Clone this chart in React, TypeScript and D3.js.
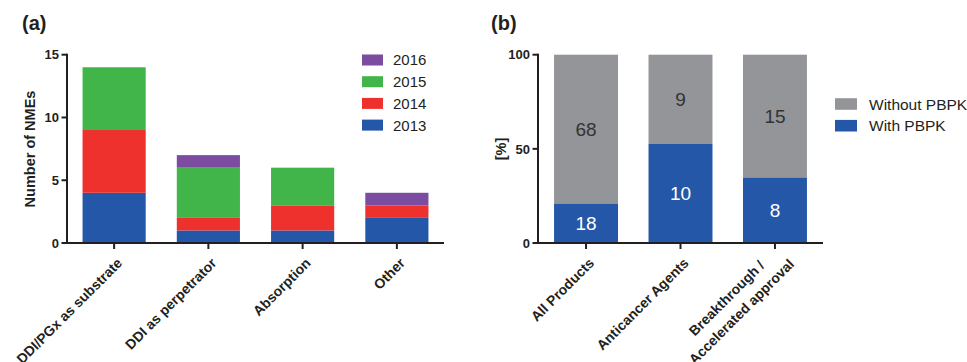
import * as d3 from "d3";

// panel (a) data
const categoriesA = ["DDI/PGx as substrate", "DDI as perpetrator", "Absorption", "Other"];
const years = ["2013", "2014", "2015", "2016"];
const counts2013 = [4, 1, 1, 2];
const counts2014 = [5, 1, 2, 1];
const counts2015 = [5, 4, 3, 0];
const counts2016 = [0, 1, 0, 1];
const yearColors = ["#2457a8", "#ee312d", "#41b549", "#7b4c9f"];
const ticksA = [0, 5, 10, 15];

// panel (b) data
const categoriesB = ["All Products", "Anticancer Agents", "Breakthrough /\nAccelerated approval"];
const withPBPK = [18, 10, 8];
const withoutPBPK = [68, 9, 15];
const ticksB = [0, 50, 100];
const pbpkColors = { with: "#2457a8", without: "#939598" };

const axisColor = "#231f20";
const font = "'Liberation Sans', Arial, Helvetica, sans-serif";

export default function App() {
  const width = 967;
  const height = 362;
  const top = 54.7;
  const bottom = 243;

  // (a) scales
  const xA = d3.scaleBand().domain(categoriesA).range([67, 444]).paddingInner(0.33).paddingOuter(0.165);
  const yA = d3.scaleLinear().domain([0, 15]).range([bottom, top]);
  const seriesByYear = [counts2013, counts2014, counts2015, counts2016];
  const rowsA = categoriesA.map((c, i) => {
    const r: any = { cat: c };
    years.forEach((y, j) => (r[y] = seriesByYear[j][i]));
    return r;
  });
  const stackA = d3.stack().keys(years)(rowsA);

  // (b) scales
  const xB = d3.scaleBand().domain(categoriesB).range([538, 823]).paddingInner(0.323).paddingOuter(0.17);
  const yB = d3.scaleLinear().domain([0, 100]).range([bottom, top]);
  const rowsB = categoriesB.map((c, i) => {
    const tot = withPBPK[i] + withoutPBPK[i];
    return { cat: c, w: withPBPK[i], wo: withoutPBPK[i], pct: (withPBPK[i] / tot) * 100 };
  });

  const legendA = years.slice().reverse();

  return (
    <svg width={width} height={height} style={{ position: "absolute", left: 0, top: 0 }} fontFamily={font}>
      {/* titles */}
      <text x={22} y={30} fontSize={20} fontWeight="bold" fill="#231f20">(a)</text>
      <text x={491} y={30} fontSize={20} fontWeight="bold" fill="#231f20">(b)</text>

      {/* ---- panel a ---- */}
      <g>
        {stackA.map((s, j) => (
          <g key={s.key} fill={yearColors[j]}>
            {s.map((d, i) =>
              d[1] - d[0] > 0 ? (
                <rect key={i} x={xA(categoriesA[i])} width={xA.bandwidth()} y={yA(d[1])} height={yA(d[0]) - yA(d[1])} />
              ) : null
            )}
          </g>
        ))}
        <line x1={67} x2={67} y1={top - 1} y2={bottom + 1} stroke={axisColor} strokeWidth={2} />
        <line x1={66} x2={444} y1={bottom} y2={bottom} stroke={axisColor} strokeWidth={2} />
        {ticksA.map((t) => (
          <g key={t} transform={`translate(0,${yA(t)})`}>
            <line x1={61.5} x2={67} stroke={axisColor} strokeWidth={2} />
            <text x={59} dy="0.36em" textAnchor="end" fontSize={13} fontWeight="bold" fill={axisColor}>{t}</text>
          </g>
        ))}
        {categoriesA.map((c) => {
          const cx = xA(c)! + xA.bandwidth() / 2;
          return (
            <g key={c}>
              <line x1={cx} x2={cx} y1={bottom} y2={bottom + 6} stroke={axisColor} strokeWidth={2} />
              <text transform={`translate(${cx + 9},${bottom + 21}) rotate(-45)`} textAnchor="end" fontSize={14} fontWeight="bold" fill={axisColor}>{c}</text>
            </g>
          );
        })}
        <text transform={`translate(35,149) rotate(-90)`} textAnchor="middle" fontSize={14.5} fontWeight="bold" fill={axisColor}>Number of NMEs</text>
        {legendA.map((y, i) => (
          <g key={y} transform={`translate(362,${60 + i * 21.7})`}>
            <rect x={0} y={-5.5} width={21} height={11} fill={yearColors[years.indexOf(y)]} />
            <text x={31} dy="0.36em" fontSize={15} fill="#231f20">{y}</text>
          </g>
        ))}
      </g>

      {/* ---- panel b ---- */}
      <g>
        {rowsB.map((d) => (
          <g key={d.cat}>
            <rect x={xB(d.cat)} width={xB.bandwidth()} y={yB(100)} height={yB(d.pct) - yB(100)} fill={pbpkColors.without} />
            <rect x={xB(d.cat)} width={xB.bandwidth()} y={yB(d.pct)} height={yB(0) - yB(d.pct)} fill={pbpkColors.with} />
            <text x={xB(d.cat)! + xB.bandwidth() / 2} y={(yB(100) + yB(d.pct)) / 2} dy="0.36em" textAnchor="middle" fontSize={19} fill="#333">{d.wo}</text>
            <text x={xB(d.cat)! + xB.bandwidth() / 2} y={(yB(d.pct) + yB(0)) / 2} dy="0.36em" textAnchor="middle" fontSize={19} fill="#fff">{d.w}</text>
          </g>
        ))}
        <line x1={538} x2={538} y1={top - 1} y2={bottom + 1} stroke={axisColor} strokeWidth={2} />
        <line x1={537} x2={823} y1={bottom} y2={bottom} stroke={axisColor} strokeWidth={2} />
        {ticksB.map((t) => (
          <g key={t} transform={`translate(0,${yB(t)})`}>
            <line x1={532.5} x2={538} stroke={axisColor} strokeWidth={2} />
            <text x={530} dy="0.36em" textAnchor="end" fontSize={13} fontWeight="bold" fill={axisColor}>{t}</text>
          </g>
        ))}
        {categoriesB.map((c) => {
          const cx = xB(c)! + xB.bandwidth() / 2;
          const lines = c.split("\n");
          return (
            <g key={c}>
              <line x1={cx} x2={cx} y1={bottom} y2={bottom + 6} stroke={axisColor} strokeWidth={2} />
              {lines.length === 1 ? (
                <text transform={`translate(${cx + 9},${bottom + 21}) rotate(-45)`} textAnchor="end" fontSize={14} fontWeight="bold" fill={axisColor}>{c}</text>
              ) : (
                <g transform={`translate(${cx + 20},${bottom + 22}) rotate(-45)`}>
                  <text x={-22} y={-20} textAnchor="end" fontSize={14} fontWeight="bold" fill={axisColor}>{lines[0]}</text>
                  <text x={0} y={0} textAnchor="end" fontSize={14} fontWeight="bold" fill={axisColor}>{lines[1]}</text>
                </g>
              )}
            </g>
          );
        })}
        <text transform={`translate(506,149) rotate(-90)`} textAnchor="middle" fontSize={14.5} fontWeight="bold" fill={axisColor}>[%]</text>
        {[
          { label: "Without PBPK", color: pbpkColors.without },
          { label: "With PBPK", color: pbpkColors.with },
        ].map((l, i) => (
          <g key={l.label} transform={`translate(835,${104 + i * 21.7})`}>
            <rect x={0} y={-5.8} width={22} height={11.6} fill={l.color} />
            <text x={34} dy="0.36em" fontSize={15.5} fill="#231f20">{l.label}</text>
          </g>
        ))}
      </g>
    </svg>
  );
}
